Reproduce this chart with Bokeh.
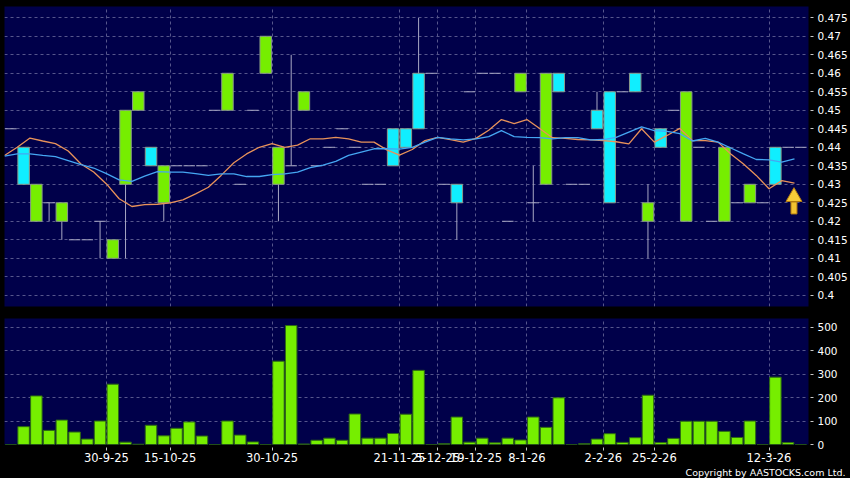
import numpy as np
from bokeh.plotting import figure
from bokeh.models import (ColumnDataSource, Range1d, FixedTicker, Title,
                          CustomJSTickFormatter)
from bokeh.layouts import column
from bokeh.embed import file_html
from bokeh.resources import INLINE

# ---------------- data (one slot per day) ----------------
open_px = [0.445, 0.44, 0.42, 0.425, 0.42, 0.415, 0.415, 0.42, 0.41, 0.43,
           0.45, 0.44, 0.425, 0.435, 0.435, 0.435, 0.45, 0.45, 0.43, 0.45,
           0.46, 0.43, 0.435, 0.45, 0.435, 0.44, 0.445, 0.44, 0.43, 0.43,
           0.445, 0.445, 0.46, 0.46, 0.43, 0.43, 0.455, 0.46, 0.46, 0.42,
           0.455, 0.425, 0.43, 0.46, 0.43, 0.43, 0.45, 0.455, 0.455, 0.46,
           0.42, 0.445, 0.45, 0.42, 0.44, 0.42, 0.42, 0.425, 0.425, 0.425,
           0.44, 0.44, 0.44]
high_px = [0.445, 0.44, 0.43, 0.425, 0.425, 0.415, 0.415, 0.42, 0.415, 0.45,
           0.455, 0.44, 0.435, 0.435, 0.435, 0.435, 0.45, 0.46, 0.43, 0.45,
           0.47, 0.44, 0.465, 0.455, 0.435, 0.44, 0.445, 0.44, 0.43, 0.43,
           0.445, 0.445, 0.475, 0.46, 0.43, 0.43, 0.455, 0.46, 0.46, 0.42,
           0.46, 0.435, 0.46, 0.46, 0.43, 0.43, 0.455, 0.455, 0.455, 0.46,
           0.43, 0.445, 0.45, 0.455, 0.44, 0.42, 0.44, 0.425, 0.43, 0.425,
           0.44, 0.44, 0.44]
low_px = [0.445, 0.43, 0.42, 0.42, 0.415, 0.415, 0.415, 0.41, 0.41, 0.41,
          0.45, 0.435, 0.42, 0.435, 0.435, 0.435, 0.45, 0.45, 0.43, 0.45,
          0.46, 0.42, 0.435, 0.45, 0.435, 0.44, 0.445, 0.44, 0.43, 0.43,
          0.435, 0.44, 0.445, 0.46, 0.43, 0.415, 0.455, 0.46, 0.46, 0.42,
          0.455, 0.42, 0.43, 0.455, 0.43, 0.43, 0.445, 0.425, 0.455, 0.455,
          0.41, 0.44, 0.45, 0.42, 0.44, 0.42, 0.42, 0.425, 0.425, 0.425,
          0.43, 0.44, 0.44]
close_px = [0.445, 0.43, 0.43, 0.425, 0.425, 0.415, 0.415, 0.42, 0.415, 0.45,
            0.455, 0.435, 0.435, 0.435, 0.435, 0.435, 0.45, 0.46, 0.43, 0.45,
            0.47, 0.44, 0.435, 0.455, 0.435, 0.44, 0.445, 0.44, 0.43, 0.43,
            0.435, 0.44, 0.445, 0.46, 0.43, 0.425, 0.455, 0.46, 0.46, 0.42,
            0.46, 0.425, 0.46, 0.455, 0.43, 0.43, 0.445, 0.425, 0.455, 0.455,
            0.425, 0.44, 0.45, 0.455, 0.44, 0.42, 0.44, 0.425, 0.43, 0.425,
            0.43, 0.44, 0.44]
volume = [0, 76, 207, 60, 104, 53, 23, 100, 257, 10,
          1, 82, 37, 69, 96, 36, 0, 100, 40, 11,
          0, 355, 507, 2, 18, 27, 18, 130, 27, 27,
          47, 129, 316, 0, 3, 117, 10, 27, 7, 27,
          19, 117, 73, 199, 0, 3, 23, 46, 9, 29,
          210, 8, 26, 99, 99, 99, 56, 30, 100, 0,
          287, 8, 0]
ma_short = [0.4378, 0.4400, 0.4425, 0.4417, 0.4410, 0.4390, 0.4355, 0.4333, 0.4301, 0.4261,
            0.4240, 0.4245, 0.4246, 0.4250, 0.4258, 0.4274, 0.4292, 0.4324, 0.4358, 0.4382,
            0.4400, 0.4410, 0.4400, 0.4406, 0.4423, 0.4423, 0.4427, 0.4423, 0.4414, 0.4414,
            0.4393, 0.4379, 0.4394, 0.4418, 0.4427, 0.4421, 0.4414, 0.4424, 0.4446, 0.4475,
            0.4464, 0.4475, 0.4451, 0.4426, 0.4424, 0.4421, 0.4420, 0.4418, 0.4415, 0.4409,
            0.4450, 0.4414, 0.4432, 0.4451, 0.4418, 0.4418, 0.4414, 0.4382, 0.4355, 0.4324,
            0.4288, 0.4310, 0.4303]
ma_long = [0.4376, 0.4382, 0.4382, 0.4378, 0.4375, 0.4364, 0.4353, 0.4344, 0.4329, 0.4312,
           0.4308, 0.4322, 0.4334, 0.4333, 0.4333, 0.4329, 0.4324, 0.4328, 0.4328, 0.4321,
           0.4321, 0.4326, 0.4328, 0.4333, 0.4345, 0.4352, 0.4362, 0.4378, 0.4387, 0.4396,
           0.4396, 0.4395, 0.4400, 0.4414, 0.4427, 0.4423, 0.4420, 0.4423, 0.4429, 0.4445,
           0.4429, 0.4427, 0.4426, 0.4423, 0.4426, 0.4426, 0.4420, 0.4421, 0.4427, 0.4441,
           0.4455, 0.4445, 0.4443, 0.4437, 0.4417, 0.4424, 0.4414, 0.4398, 0.4382, 0.4367,
           0.4366, 0.4360, 0.4369]
label_days = [8, 13, 21, 31, 34, 37, 41, 47, 51, 60]
date_labels = ["30-9-25", "15-10-25", "30-10-25", "21-11-25", "5-12-25",
               "19-12-25", "8-1-26", "2-2-26", "25-2-26", "12-3-26"]
price_ticks = [0.4, 0.405, 0.41, 0.415, 0.42, 0.425, 0.43, 0.435, 0.44,
               0.445, 0.45, 0.455, 0.46, 0.465, 0.47, 0.475]
volume_ticks = [0, 100, 200, 300, 400, 500]

# ---------------- styling ----------------
NAVY = "#00004A"
BLACK = "#000000"
GREEN = "#76EE00"
CYAN = "#10EEFF"
WICK = "#a8a8c4"
GRID = "#56568c"
FONT = "DejaVu Sans"

n = len(close_px)
idx = np.arange(n)
tick_pos = [d - 0.5 for d in label_days]

x_range = Range1d(-0.5, 62.6)

common = dict(width=850, output_backend="svg", toolbar_location=None,
              x_range=x_range, y_axis_location="right",
              background_fill_color=NAVY, border_fill_color=BLACK,
              outline_line_color=None, min_border_left=4, min_border_right=42)

# ---------------- price panel ----------------
p = figure(height=311, y_range=Range1d(0.39697, 0.47805), x_axis_location=None,
           min_border_top=6, min_border_bottom=5, **common)

wicks = ColumnDataSource(dict(x=idx, hi=high_px, lo=low_px))
p.segment(x0="x", y0="hi", x1="x", y1="lo", source=wicks, line_color=WICK, line_width=1)

body_i = [i for i in range(n) if open_px[i] != close_px[i]]
bodies = ColumnDataSource(dict(
    x=[i for i in body_i],
    top=[max(open_px[i], close_px[i]) for i in body_i],
    bottom=[min(open_px[i], close_px[i]) for i in body_i],
    color=[GREEN if close_px[i] > open_px[i] else CYAN for i in body_i],
))
p.vbar(x="x", top="top", bottom="bottom", width=0.9, source=bodies,
       fill_color="color", line_color="#8a9a8a", line_width=1)

doji_i = [i for i in range(n) if open_px[i] == close_px[i]]
dojis = ColumnDataSource(dict(
    x0=[i - 0.45 for i in doji_i], x1=[i + 0.45 for i in doji_i],
    y=[close_px[i] for i in doji_i]))
p.segment(x0="x0", y0="y", x1="x1", y1="y", source=dojis, line_color=WICK, line_width=1)

ma_x = idx - 0.5
p.line(ma_x, ma_short, line_color="#E8925A", line_width=1.3)
p.line(ma_x, ma_long, line_color="#45A6F2", line_width=1.3)

# signal arrow next to the last session
arrow_x = n - 1.54
p.rect(x=[arrow_x], y=[0.4236], width=6, height=12, width_units="screen",
       height_units="screen", fill_color="#F2C230", line_color="#B07A10")
p.scatter(x=[arrow_x], y=[0.4266], marker="triangle", size=16,
          fill_color="#F7CC38", line_color="#B07A10")

p.yaxis.ticker = FixedTicker(ticks=price_ticks)
p.yaxis.formatter = CustomJSTickFormatter(code="return tick.toString()")
p.xgrid.ticker = FixedTicker(ticks=tick_pos)

# ---------------- volume panel ----------------
v = figure(height=167, y_range=Range1d(0, 537), min_border_top=7,
           min_border_bottom=34, **common)
vsrc = ColumnDataSource(dict(x=idx, vol=volume))
v.vbar(x="x", top="vol", bottom=0, width=0.9, source=vsrc,
       fill_color=GREEN, line_color="#2E6A14", line_width=1)
v.yaxis.ticker = FixedTicker(ticks=volume_ticks)
v.xaxis.ticker = FixedTicker(ticks=tick_pos)
v.xaxis.major_label_overrides = {t: s for t, s in zip(tick_pos, date_labels)}
v.xgrid.ticker = FixedTicker(ticks=tick_pos)

v.add_layout(Title(text="Copyright by AASTOCKS.com Ltd.", align="right",
                   offset=-37, standoff=0, text_color="#FFFFFF",
                   text_font=FONT, text_font_size="9.5px",
                   text_font_style="normal"), "below")

for fig in (p, v):
    for g in fig.grid:
        g.grid_line_color = GRID
        g.grid_line_dash = "3 3"
        g.grid_line_width = 1
    for ax in fig.yaxis:
        ax.axis_line_color = None
        ax.major_tick_line_color = "#c8c8c8"
        ax.major_tick_in = -2
        ax.major_tick_out = 5
        ax.minor_tick_line_color = None
        ax.major_label_standoff = 4
        ax.major_label_text_color = "#FFFFFF"
        ax.major_label_text_font = FONT
        ax.major_label_text_font_size = "10.5px"

for ax in v.xaxis:
    ax.axis_line_color = None
    ax.major_tick_line_color = "#c8c8c8"
    ax.major_tick_in = -3
    ax.major_tick_out = 6
    ax.minor_tick_line_color = None
    ax.major_label_standoff = 2
    ax.major_label_text_color = "#FFFFFF"
    ax.major_label_text_font = FONT
    ax.major_label_text_font_size = "11.5px"

layout = column(p, v, spacing=0, background=BLACK)

html = file_html(layout, INLINE)
html = html.replace("</head>", "<style>html,body{margin:0;padding:0;background:#000000;overflow:hidden}</style></head>", 1)
open("out.html", "w").write(html)
